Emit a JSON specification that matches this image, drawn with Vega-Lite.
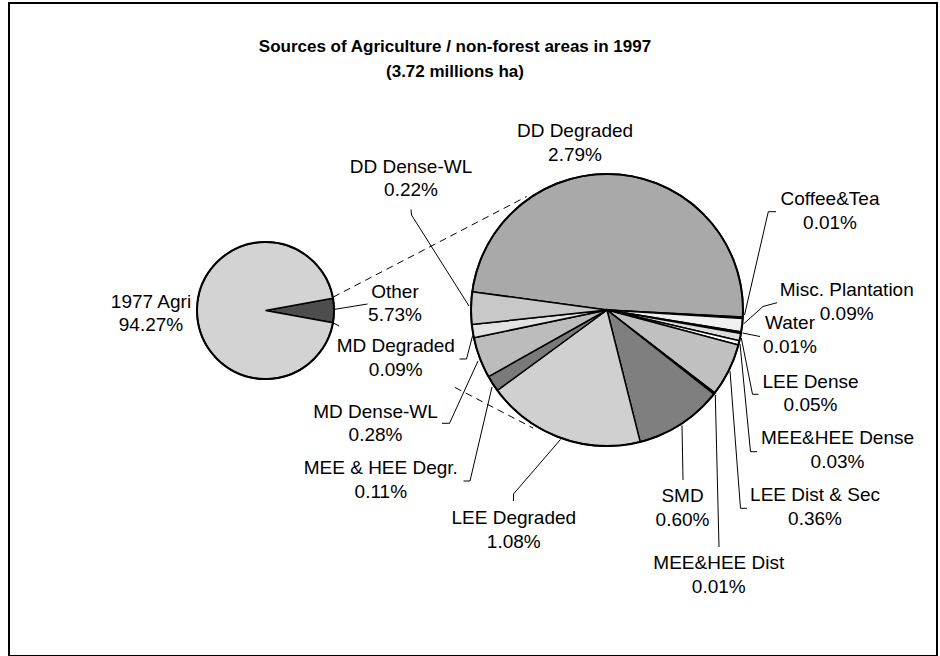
{
  "$schema": "https://vega.github.io/schema/vega-lite/v6.json",
  "width": 940,
  "height": 656,
  "autosize": {"type": "fit", "contains": "padding"},
  "padding": {"left": 9, "top": 3, "right": 3, "bottom": 0},
  "background": "white",
  "config": {"view": {"stroke": "black", "strokeWidth": 2}, "font": "Liberation Sans"},
  "datasets": {
    "slices": [
      {"pie": "small", "label": "Other", "value": 5.73, "order": 1, "text": "Other\n5.73%", "lx": 395, "ly": 297.7},
      {"pie": "small", "label": "1977 Agri", "value": 94.27, "order": 2, "text": "1977 Agri\n94.27%", "lx": 151, "ly": 307.7},
      {"pie": "big", "label": "DD Degraded", "value": 2.79, "order": 1, "text": "DD Degraded\n2.79%", "lx": 575, "ly": 137},
      {"pie": "big", "label": "Coffee&Tea", "value": 0.01, "order": 2, "text": "Coffee&Tea\n0.01%", "lx": 830, "ly": 205},
      {"pie": "big", "label": "Misc. Plantation", "value": 0.09, "order": 3, "text": "Misc. Plantation\n0.09%", "lx": 846.7, "ly": 296},
      {"pie": "big", "label": "Water", "value": 0.01, "order": 4, "text": "Water\n0.01%", "lx": 790, "ly": 329},
      {"pie": "big", "label": "LEE Dense", "value": 0.05, "order": 5, "text": "LEE Dense\n0.05%", "lx": 810.5, "ly": 387.7},
      {"pie": "big", "label": "MEE&HEE Dense", "value": 0.03, "order": 6, "text": "MEE&HEE Dense\n0.03%", "lx": 837.5, "ly": 444},
      {"pie": "big", "label": "LEE Dist & Sec", "value": 0.36, "order": 7, "text": "LEE Dist & Sec\n0.36%", "lx": 815, "ly": 501},
      {"pie": "big", "label": "MEE&HEE Dist", "value": 0.01, "order": 8, "text": "MEE&HEE Dist\n0.01%", "lx": 718.8, "ly": 569},
      {"pie": "big", "label": "SMD", "value": 0.60, "order": 9, "text": "SMD\n0.60%", "lx": 682.5, "ly": 502.3},
      {"pie": "big", "label": "LEE Degraded", "value": 1.08, "order": 10, "text": "LEE Degraded\n1.08%", "lx": 513.8, "ly": 524},
      {"pie": "big", "label": "MEE & HEE Degr.", "value": 0.11, "order": 11, "text": "MEE & HEE Degr.\n0.11%", "lx": 380.8, "ly": 474.3},
      {"pie": "big", "label": "MD Dense-WL", "value": 0.28, "order": 12, "text": "MD Dense-WL\n0.28%", "lx": 375.5, "ly": 417.7},
      {"pie": "big", "label": "MD Degraded", "value": 0.09, "order": 13, "text": "MD Degraded\n0.09%", "lx": 395.8, "ly": 352.3},
      {"pie": "big", "label": "DD Dense-WL", "value": 0.22, "order": 14, "text": "DD Dense-WL\n0.22%", "lx": 411, "ly": 172.7}
    ],
    "leaders": [
      {"id": "Other", "seq": 1, "x": 333.5, "y": 309.5}, {"id": "Other", "seq": 2, "x": 367.5, "y": 304},
      {"id": "DD Dense-WL", "seq": 1, "x": 411, "y": 209.5}, {"id": "DD Dense-WL", "seq": 2, "x": 411.5, "y": 215}, {"id": "DD Dense-WL", "seq": 3, "x": 469, "y": 306},
      {"id": "MD Degraded", "seq": 1, "x": 459.5, "y": 359}, {"id": "MD Degraded", "seq": 2, "x": 466.5, "y": 359}, {"id": "MD Degraded", "seq": 3, "x": 472.5, "y": 336},
      {"id": "MD Dense-WL", "seq": 1, "x": 442, "y": 423.3}, {"id": "MD Dense-WL", "seq": 2, "x": 449.5, "y": 423.3}, {"id": "MD Dense-WL", "seq": 3, "x": 478, "y": 361},
      {"id": "MEE & HEE Degr.", "seq": 1, "x": 463.5, "y": 481}, {"id": "MEE & HEE Degr.", "seq": 2, "x": 470, "y": 481}, {"id": "MEE & HEE Degr.", "seq": 3, "x": 492, "y": 387},
      {"id": "LEE Degraded", "seq": 1, "x": 513.5, "y": 501}, {"id": "LEE Degraded", "seq": 2, "x": 513.5, "y": 494}, {"id": "LEE Degraded", "seq": 3, "x": 560.5, "y": 439.5},
      {"id": "SMD", "seq": 1, "x": 683, "y": 480}, {"id": "SMD", "seq": 2, "x": 682, "y": 425.5},
      {"id": "MEE&HEE Dist", "seq": 1, "x": 719, "y": 547}, {"id": "MEE&HEE Dist", "seq": 2, "x": 715.3, "y": 395},
      {"id": "LEE Dist & Sec", "seq": 1, "x": 747, "y": 508.3}, {"id": "LEE Dist & Sec", "seq": 2, "x": 740.5, "y": 508.3}, {"id": "LEE Dist & Sec", "seq": 3, "x": 730, "y": 371},
      {"id": "MEE&HEE Dense", "seq": 1, "x": 757, "y": 451.7}, {"id": "MEE&HEE Dense", "seq": 2, "x": 750.5, "y": 451.7}, {"id": "MEE&HEE Dense", "seq": 3, "x": 740, "y": 344},
      {"id": "LEE Dense", "seq": 1, "x": 758.5, "y": 394.3}, {"id": "LEE Dense", "seq": 2, "x": 752.5, "y": 394.3}, {"id": "LEE Dense", "seq": 3, "x": 741.3, "y": 338},
      {"id": "Water", "seq": 1, "x": 760, "y": 336.5}, {"id": "Water", "seq": 2, "x": 742.5, "y": 333},
      {"id": "Misc. Plantation", "seq": 1, "x": 777, "y": 302.7}, {"id": "Misc. Plantation", "seq": 2, "x": 763, "y": 306.5}, {"id": "Misc. Plantation", "seq": 3, "x": 743.5, "y": 324},
      {"id": "Coffee&Tea", "seq": 1, "x": 776, "y": 211.7}, {"id": "Coffee&Tea", "seq": 2, "x": 768.3, "y": 211.7}, {"id": "Coffee&Tea", "seq": 3, "x": 744.5, "y": 315}
    ],
    "connectors": [
      {"id": "upper", "seq": 1, "x": 333.3, "y": 297}, {"id": "upper", "seq": 2, "x": 526.7, "y": 196.5},
      {"id": "lowerA", "seq": 1, "x": 333, "y": 322.7}, {"id": "lowerA", "seq": 2, "x": 340, "y": 326.5},
      {"id": "lowerB", "seq": 1, "x": 455, "y": 387.5}, {"id": "lowerB", "seq": 2, "x": 533, "y": 428}
    ],
    "titles": [
      {"t": "Sources of Agriculture / non-forest areas in 1997\n(3.72 millions ha)"}
    ],
    "rings": [{"ring": "outline"}]
  },
  "resolve": {"scale": {"theta": "independent"}},
  "layer": [
    {
      "data": {"name": "slices"},
      "transform": [{"filter": "datum.pie === 'small'"}],
      "mark": {"type": "arc", "radius": 68.5, "stroke": "black", "strokeWidth": 1.5},
      "encoding": {
        "theta": {"field": "value", "type": "quantitative", "stack": true, "scale": {"range": [1.391, 7.674]}},
        "order": {"field": "order", "type": "quantitative", "sort": "ascending"},
        "fill": {"field": "label", "type": "nominal", "legend": null,
          "scale": {"domain": ["Other", "1977 Agri", "DD Degraded", "Coffee&Tea", "Misc. Plantation", "Water", "LEE Dense", "MEE&HEE Dense", "LEE Dist & Sec", "MEE&HEE Dist", "SMD", "LEE Degraded", "MEE & HEE Degr.", "MD Dense-WL", "MD Degraded", "DD Dense-WL"],
                    "range": ["#4d4d4d", "#d3d3d3", "#a9a9a9", "#404040", "#f0f0f0", "#cccccc", "#dddddd", "#ffffff", "#c0c0c0", "#404040", "#7f7f7f", "#d0d0d0", "#7a7a7a", "#bcbcbc", "#e2e2e2", "#c8c8c8"]}},
        "x": {"datum": 265.5, "type": "quantitative", "scale": {"domain": [9, 937], "nice": false, "zero": false}, "axis": null},
        "y": {"datum": 310.5, "type": "quantitative", "scale": {"domain": [3, 656], "nice": false, "zero": false, "reverse": true}, "axis": null}
      }
    },
    {
      "data": {"name": "slices"},
      "transform": [{"filter": "datum.pie === 'big'"}],
      "mark": {"type": "arc", "radius": 136, "stroke": "black", "strokeWidth": 1.5},
      "encoding": {
        "theta": {"field": "value", "type": "quantitative", "stack": true, "scale": {"range": [4.847, 11.130]}},
        "order": {"field": "order", "type": "quantitative", "sort": "ascending"},
        "fill": {"field": "label", "type": "nominal", "legend": null},
        "x": {"datum": 607, "type": "quantitative", "scale": {"domain": [9, 937], "nice": false, "zero": false}, "axis": null},
        "y": {"datum": 310, "type": "quantitative", "scale": {"domain": [3, 656], "nice": false, "zero": false, "reverse": true}, "axis": null}
      }
    },
    {
      "data": {"name": "rings"},
      "mark": {"type": "arc", "radius": 68.5, "theta": 0, "theta2": 6.2832, "fill": null, "fillOpacity": 0, "stroke": "black", "strokeWidth": 2},
      "encoding": {
        "x": {"datum": 265.5, "type": "quantitative", "scale": {"domain": [9, 937], "nice": false, "zero": false}, "axis": null},
        "y": {"datum": 310.5, "type": "quantitative", "scale": {"domain": [3, 656], "nice": false, "zero": false, "reverse": true}, "axis": null}
      }
    },
    {
      "data": {"name": "rings"},
      "mark": {"type": "arc", "radius": 136, "theta": 0, "theta2": 6.2832, "fill": null, "fillOpacity": 0, "stroke": "black", "strokeWidth": 2},
      "encoding": {
        "x": {"datum": 607, "type": "quantitative", "scale": {"domain": [9, 937], "nice": false, "zero": false}, "axis": null},
        "y": {"datum": 310, "type": "quantitative", "scale": {"domain": [3, 656], "nice": false, "zero": false, "reverse": true}, "axis": null}
      }
    },
    {
      "data": {"name": "connectors"},
      "mark": {"type": "line", "stroke": "black", "strokeWidth": 1, "strokeDash": [7, 5]},
      "encoding": {
        "x": {"field": "x", "type": "quantitative", "scale": {"domain": [9, 937], "nice": false, "zero": false}, "axis": null},
        "y": {"field": "y", "type": "quantitative", "scale": {"domain": [3, 656], "nice": false, "zero": false, "reverse": true}, "axis": null},
        "detail": {"field": "id", "type": "nominal"},
        "order": {"field": "seq", "type": "quantitative"}
      }
    },
    {
      "data": {"name": "leaders"},
      "mark": {"type": "line", "stroke": "black", "strokeWidth": 1},
      "encoding": {
        "x": {"field": "x", "type": "quantitative", "scale": {"domain": [9, 937], "nice": false, "zero": false}, "axis": null},
        "y": {"field": "y", "type": "quantitative", "scale": {"domain": [3, 656], "nice": false, "zero": false, "reverse": true}, "axis": null},
        "detail": {"field": "id", "type": "nominal"},
        "order": {"field": "seq", "type": "quantitative"}
      }
    },
    {
      "data": {"name": "slices"},
      "mark": {"type": "text", "fontSize": 19, "font": "Liberation Sans", "align": "center", "baseline": "alphabetic", "lineBreak": "\n", "lineHeight": 23.5, "color": "black"},
      "encoding": {
        "x": {"field": "lx", "type": "quantitative", "scale": {"domain": [9, 937], "nice": false, "zero": false}, "axis": null},
        "y": {"field": "ly", "type": "quantitative", "scale": {"domain": [3, 656], "nice": false, "zero": false, "reverse": true}, "axis": null},
        "text": {"field": "text", "type": "nominal"}
      }
    },
    {
      "data": {"name": "titles"},
      "mark": {"type": "text", "fontSize": 17, "fontWeight": "bold", "font": "Liberation Sans", "align": "center", "baseline": "alphabetic", "lineBreak": "\n", "lineHeight": 25, "color": "black"},
      "encoding": {
        "x": {"datum": 455, "type": "quantitative", "scale": {"domain": [9, 937], "nice": false, "zero": false}, "axis": null},
        "y": {"datum": 52, "type": "quantitative", "scale": {"domain": [3, 656], "nice": false, "zero": false, "reverse": true}, "axis": null},
        "text": {"field": "t", "type": "nominal"}
      }
    }
  ]
}
